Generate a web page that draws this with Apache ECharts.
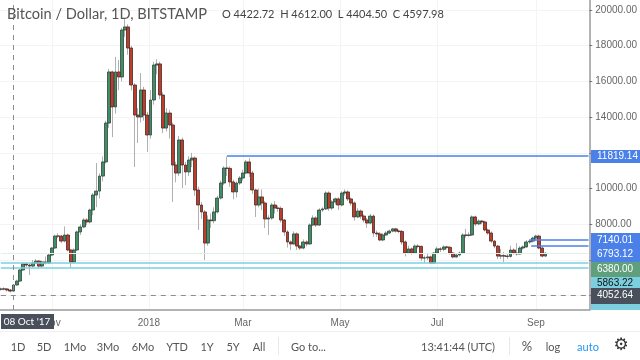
<!DOCTYPE html>
<html><head><meta charset="utf-8">
<style>html,body{margin:0;padding:0;background:#fff}#c{width:640px;height:360px}</style>
<script src="https://cdn.jsdelivr.net/npm/echarts@6/dist/echarts.min.js"></script>
</head><body><div id="c"></div>
<script>
const startDate = Date.UTC(2017, 8, 30);
const dayCount = 370;
const candleStepDays = 2;
const opens = [4360,4380,4380,4320,4260,4600,4820,5440,5780,5720,5660,5830,5940,5660,5890,5830,6280,6670,7340,7340,7060,7400,6560,5890,6560,7570,7850,8240,8130,8800,9640,9860,10700,11490,13670,16530,14570,16530,16250,18880,19050,17870,15800,14120,14010,15520,14120,13000,14960,16920,16980,15240,13390,14230,13560,11320,10870,12720,11320,10930,11600,11710,9920,9080,8690,6950,8240,8200,8690,9470,10310,11150,11130,10370,9810,10310,10590,10870,11490,10870,9920,9080,9530,9190,8300,8350,9080,8910,8890,8240,7570,7010,6900,7460,6780,6670,7010,6900,7960,8350,7960,8800,8860,9750,8910,9250,9420,9080,9750,9810,9420,9190,8410,8740,8460,8240,8070,8460,7510,7460,7120,7400,7510,7620,7740,7620,7600,7010,6390,6620,6390,6780,6760,6110,6120,6170,5830,6390,6620,6600,6730,6710,6390,6170,6280,6390,7400,7380,7400,8410,8020,8180,8130,7680,7510,7060,6780,6220,6240,6220,6200,6560,6390,6340,6670,6730,7010,7060,7230,7340,6670,6220];
const closes = [4380,4380,4320,4260,4600,4820,5440,5780,5720,5660,5830,5940,5660,5890,5830,6280,6670,7340,7340,7060,7400,6560,5890,6560,7570,7850,8240,8130,8800,9640,9860,10700,11490,13670,16530,14570,16530,16250,18880,19050,17870,15800,14120,14010,15520,14120,13000,14960,16920,16980,15240,13390,14230,13560,11320,10870,12720,11320,10930,11600,11710,9920,9080,8690,6950,8240,8200,8690,9470,10310,11150,11130,10370,9810,10310,10590,10870,11490,10870,9920,9080,9530,9190,8300,8350,9080,8910,8890,8240,7570,7010,6900,7460,6780,6670,7010,6900,7960,8350,7960,8800,8860,9750,8910,9250,9420,9080,9750,9810,9420,9190,8410,8740,8460,8240,8070,8460,7510,7460,7120,7400,7510,7620,7740,7620,7600,7010,6390,6620,6390,6780,6760,6110,6120,6170,5830,6390,6620,6600,6730,6710,6390,6170,6280,6390,7400,7380,7400,8410,8020,8180,8130,7680,7510,7060,6780,6220,6240,6220,6200,6560,6390,6340,6670,6730,7010,7060,7230,7340,6670,6220,6380];
const lows = [4280,4300,4230,4180,4220,4560,4780,5400,5600,5160,5600,5780,5530,5600,5750,5780,6230,6630,7220,6950,7000,6480,5560,5850,6500,7400,7780,7950,8050,8500,8960,9450,10400,11400,13400,12880,14200,15520,16000,18500,17500,15500,11210,12550,13700,13800,12050,12800,14700,16400,15000,13100,13200,12800,9250,10350,10700,10030,10200,10700,11200,9600,7680,8300,6000,6800,7800,8050,8600,9380,10200,10700,10100,9400,9500,10200,10450,10800,10650,9700,8410,8950,8800,7790,7400,8250,8600,8700,8100,7350,6700,6560,6850,6560,6560,6600,6750,6850,7900,7850,7900,8700,8800,8750,8800,9100,8800,9000,9600,9300,9050,8200,8350,8300,8100,7800,8000,7300,7300,7050,7050,7350,7450,7550,7540,7500,6850,6200,6330,6300,6350,6650,5950,5830,6000,5780,5800,6350,6450,6500,6600,6300,6100,6120,6200,6350,7250,7300,7350,7900,7950,8000,7600,7420,6950,6650,6050,6050,5890,6050,6130,6300,6250,6300,6580,6680,6900,6980,7100,6600,6150,6180];
const highs = [4450,4470,4420,4370,4650,4900,5500,5860,5850,5790,6000,6050,6000,5960,6200,6340,6730,7420,7500,7400,7880,7480,6620,6650,7650,8000,8340,8350,8880,9750,11430,10850,11800,13800,16700,16600,17370,17200,19000,19550,19200,18000,15900,14500,16470,15700,14300,15520,17100,17250,17100,15400,14500,14400,13700,11500,12950,12850,11500,11800,12000,11800,10100,9250,8800,8500,8600,8950,9600,10450,11250,11800,11250,10500,10400,10700,11050,11600,11700,11000,10000,10000,9950,9300,8500,9200,9300,9050,9000,8300,7680,7100,7600,7550,6850,7150,7100,8050,8500,8450,8900,8950,9850,9850,9350,9500,9520,9850,9950,9900,9500,9280,8900,8830,8550,8350,8580,8550,7650,7560,7500,7620,7700,7800,7800,7700,7680,7100,6800,6700,6880,6880,6820,6250,6400,6250,6450,6750,6720,6820,6800,6780,6450,6350,6480,7500,7750,7550,8500,8480,8280,8250,8200,7760,7600,7120,6850,6620,6450,6350,6800,6650,6950,6780,6820,7120,7180,7310,7420,7420,6750,6430];
const priceTicks = [4000,6000,8000,10000,12000,14000,16000,18000,20000];
const priceTickLabels = [8000,10000,14000,16000,18000,20000];
const timeTicks = {'2017-11-01':'Nov','2018-01-01':'2018','2018-03-01':'Mar','2018-05-01':'May','2018-07-01':'Jul','2018-09-01':'Sep'};
const blueLevels = [{price:11819.14,from:'2018-02-19'},{price:7140.01,from:'2018-08-28'},{price:6793.12,from:'2018-08-29'}];
const cyanLevels = [5863.22,5580];
const lastPrice = 6380.00;
const dashedLevel = 4052.64;
const crosshairDate = '2017-10-08';
const titleText = 'Bitcoin / Dollar, 1D, BITSTAMP';
const ohlcText = 'O 4422.72  H 4612.00  L 4404.50  C 4597.98';
const toolbarLeft = [['1D',18],['5D',44],['1Mo',75],['3Mo',108],['6Mo',143],['YTD',177],['1Y',207],['5Y',233],['All',259]];

const categories = [];
for (let d = 0; d < dayCount; d++) categories.push(new Date(startDate + d * 86400000).toISOString().slice(0,10));
const blank = ['-','-','-','-'];
const wickData = categories.map((_, d) => {
  const i = d / candleStepDays;
  return (Number.isInteger(i) && i < closes.length) ? [opens[i], closes[i], lows[i], highs[i]] : blank;
});
const bodyData = categories.map((_, d) => {
  const i = d / candleStepDays;
  return (Number.isInteger(i) && i < closes.length) ? [opens[i], closes[i], Math.min(opens[i],closes[i]), Math.max(opens[i],closes[i])] : blank;
});
const lastCat = categories[categories.length-1];
const lineMarks = [];
blueLevels.forEach(l => lineMarks.push([{xAxis:l.from,yAxis:l.price,lineStyle:{color:'#4a80e8',width:1.6,type:'solid'}},{xAxis:lastCat,yAxis:l.price}]));
cyanLevels.forEach(v => lineMarks.push([{xAxis:categories[0],yAxis:v,lineStyle:{color:'#7ccfdf',width:1.6,type:'solid'}},{xAxis:lastCat,yAxis:v}]));
lineMarks.push([{xAxis:categories[0],yAxis:lastPrice,lineStyle:{color:'#e3f0ea',width:1,type:'solid'}},{xAxis:lastCat,yAxis:lastPrice}]);
lineMarks.push([{xAxis:categories[0],yAxis:dashedLevel,lineStyle:{color:'#8c8c8c',width:1,type:[5,5]}},{xAxis:lastCat,yAxis:dashedLevel}]);
lineMarks.push([{xAxis:crosshairDate,yAxis:3200,lineStyle:{color:'#8c8c8c',width:1,type:[5,5]}},{xAxis:crosshairDate,yAxis:20560}]);

const UI = 'Lato, "Noto Sans", sans-serif';
const NUM = '"Liberation Sans", Arial, sans-serif';
function tag(y0,y1,fill,text,color,yt){
  const els=[{type:'rect',shape:{x:591,y:y0,width:49,height:y1-y0},style:{fill},z:20}];
  if(text) els.push({type:'text',x:597,y:yt,style:{text,fill:color,font:'10px '+NUM,textVerticalAlign:'middle'},z:21});
  return els;
}
const graphics = [
  {type:'text',x:7,y:14,style:{text:titleText,fill:'#555',font:'14.6px '+UI,textVerticalAlign:'middle'},z:20},
  {type:'text',x:222,y:14,style:{text:ohlcText,fill:'#444',font:'11px '+UI,textVerticalAlign:'middle'},z:20},
  ...tag(150,163,'#4a80e8','11819.14','#fff',156.5),
  ...tag(304,310,'#7ccfdf'),
  ...tag(233,248,'#4a80e8','7140.01','#fff',240),
  ...tag(248,262,'#4a80e8','6793.12','#fff',254.5),
  ...tag(262,277,'#609f7c','6380.00','#fff',269),
  ...tag(277,289,'#7ccfdf','5863.22','#111',283),
  ...tag(288,304,'#4a4f5c','4052.64','#fff',295.5),
  {type:'rect',shape:{x:1,y:314,width:53,height:15},style:{fill:'#4a4f5c'},z:22},
  {type:'text',x:27,y:321.5,style:{text:"08 Oct '17",fill:'#fff',font:'10px '+UI,textAlign:'center',textVerticalAlign:'middle'},z:23},
  {type:'rect',shape:{x:0,y:331,width:640,height:1},style:{fill:'#eef0f2'},z:5},
  {type:'rect',shape:{x:278,y:337,width:1,height:18},style:{fill:'#e6e9ec'},z:5},
  {type:'rect',shape:{x:509,y:337,width:1,height:18},style:{fill:'#e6e9ec'},z:5},
  ...toolbarLeft.map(([t,x])=>({type:'text',x,y:347,style:{text:t,fill:'#555',font:'11px '+UI,textAlign:'center',textVerticalAlign:'middle'},z:20})),
  {type:'text',x:291,y:347,style:{text:'Go to...',fill:'#555',font:'11px '+UI,textVerticalAlign:'middle'},z:20},
  {type:'text',x:421,y:347,style:{text:'13:41:44 (UTC)',fill:'#555',font:'11px '+UI,textVerticalAlign:'middle'},z:20},
  {type:'text',x:527,y:347,style:{text:'%',fill:'#555',font:'13px '+UI,textAlign:'center',textVerticalAlign:'middle'},z:20},
  {type:'text',x:553,y:347,style:{text:'log',fill:'#555',font:'11px '+UI,textAlign:'center',textVerticalAlign:'middle'},z:20},
  {type:'text',x:588,y:347,style:{text:'auto',fill:'#2196f3',font:'11px '+UI,textAlign:'center',textVerticalAlign:'middle'},z:20},
  {type:'text',x:621,y:346,style:{text:'\u2699',fill:'#333',font:'17px "DejaVu Sans"',textAlign:'center',textVerticalAlign:'middle'},z:20}
];

const chart = echarts.init(document.getElementById('c'), null, {renderer:'canvas'});
chart.setOption({
  animation:false,
  backgroundColor:'#fff',
  grid:{left:-0.8,right:49,top:0,bottom:50,containLabel:false},
  xAxis:{type:'category',data:categories,
    axisLine:{lineStyle:{color:'#9a9a9a',width:1.5}},
    axisTick:{customValues:Object.keys(timeTicks),alignWithLabel:true,length:3,lineStyle:{color:'#777'}},
    axisLabel:{customValues:Object.keys(timeTicks),formatter:v=>timeTicks[v]||'',color:'#666',fontFamily:NUM,fontSize:10,margin:8},
    splitLine:{show:true,alignWithLabel:true,lineStyle:{color:'#f2f4f6',width:1}}},
  yAxis:{type:'value',position:'right',min:3200,max:20560,
    axisLine:{show:true,lineStyle:{color:'#9a9a9a',width:1.5}},
    axisTick:{show:true,customValues:priceTicks,length:3,lineStyle:{color:'#777'}},
    axisLabel:{customValues:priceTickLabels,formatter:v=>Number(v).toFixed(2),color:'#666',fontFamily:NUM,fontSize:10,margin:6},
    splitLine:{show:true,lineStyle:{color:'#f2f4f6',width:1}}},
  series:[
    {type:'candlestick',data:wickData,barWidth:1,z:3,silent:true,
      itemStyle:{color:'#b0b0b0',color0:'#b0b0b0',borderColor:'#b0b0b0',borderColor0:'#b0b0b0',borderWidth:1}},
    {type:'line',data:[],z:2,silent:true,symbol:'none',
      markLine:{silent:true,symbol:'none',label:{show:false},animation:false,data:lineMarks}},
    {type:'candlestick',data:bodyData,barWidth:3.4,z:4,silent:true,
      itemStyle:{color:'#3f8f66',color0:'#bd3c2c',borderColor:'#33433b',borderColor0:'#4a2a25',borderWidth:0.8}}
  ],
  graphic:{elements:graphics}
});
</script></body></html>
